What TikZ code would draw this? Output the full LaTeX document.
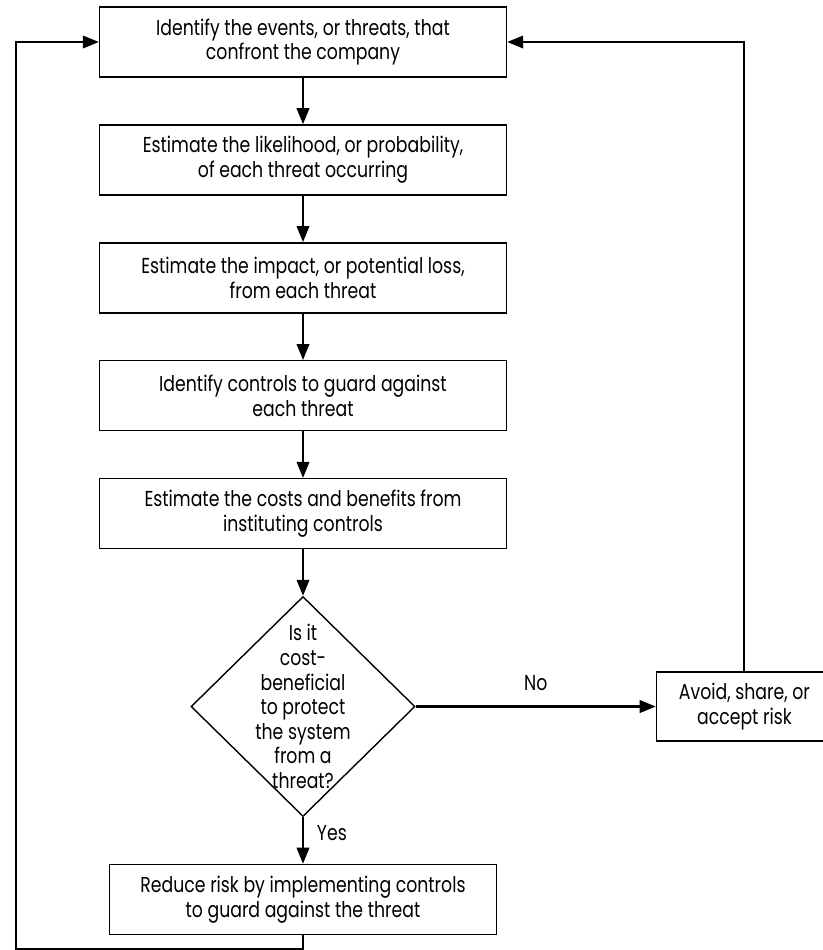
\documentclass[tikz,border=0pt]{standalone}
\usepackage{fontspec}
\setmainfont[FakeStretch=0.8]{Poppins}
\usepackage{tikz}
\usetikzlibrary{shapes.geometric, arrows.meta, positioning, calc}

\begin{document}
\begin{tikzpicture}[
    node distance=0.93cm and 4.8cm,
    font=\fontsize{12.3}{14}\selectfont,
    box/.style={rectangle, draw=black, line width=0.8pt, minimum width=8.14cm, minimum height=1.4cm, align=center, inner sep=2pt},
    decision/.style={diamond, draw=black, line width=0.8pt, minimum width=4.48cm, minimum height=4.4cm, inner sep=0pt},
    arrow/.style={-{Triangle[length=3.2mm, width=2.5mm]}, line width=1.2pt, draw=black}
]
    \useasboundingbox (0,0) rectangle (16.44,-19);

    % Main column
    \node[box] (identify) at (6.06,-0.84) {Identify the events, or threats, that\\confront the company};
    \node[box, below=of identify] (likelihood) {Estimate the likelihood, or probability,\\of each threat occurring};
    \node[box, below=of likelihood] (impact) {Estimate the impact, or potential loss,\\from each threat};
    \node[box, below=of impact] (controls) {Identify controls to guard against\\each threat};
    \node[box, below=of controls] (costs) {Estimate the costs and benefits from\\instituting controls};

    % Decision
    \node[decision, below=of costs, label={[align=center]center:Is it\\cost-\\beneficial\\to protect\\the system\\from a\\threat?}] (check) {};

    % Outcomes
    \node[box, below=of check, minimum width=7.74cm] (reduce) {Reduce risk by implementing controls\\to guard against the threat};
    \node[box, right=of check, minimum width=3.52cm, minimum height=1.38cm] (avoid) {Avoid, share, or\\accept risk};
    \coordinate (loop) at (0.32,-18.99);

    % Connections
    \draw[arrow] (identify) -- (likelihood);
    \draw[arrow] (likelihood) -- (impact);
    \draw[arrow] (impact) -- (controls);
    \draw[arrow] (controls) -- (costs);
    \draw[arrow] (costs) -- (check);
    \draw[arrow] (check) -- node[above=5pt] {No} (avoid);
    \draw[arrow] (check) -- node[right=4pt, pos=0.35] {Yes} (reduce);
    \draw[arrow] (avoid.north) |- (identify.east);
    \draw[arrow] (reduce.south) |- (loop) |- (identify.west);
\end{tikzpicture}
\end{document}
